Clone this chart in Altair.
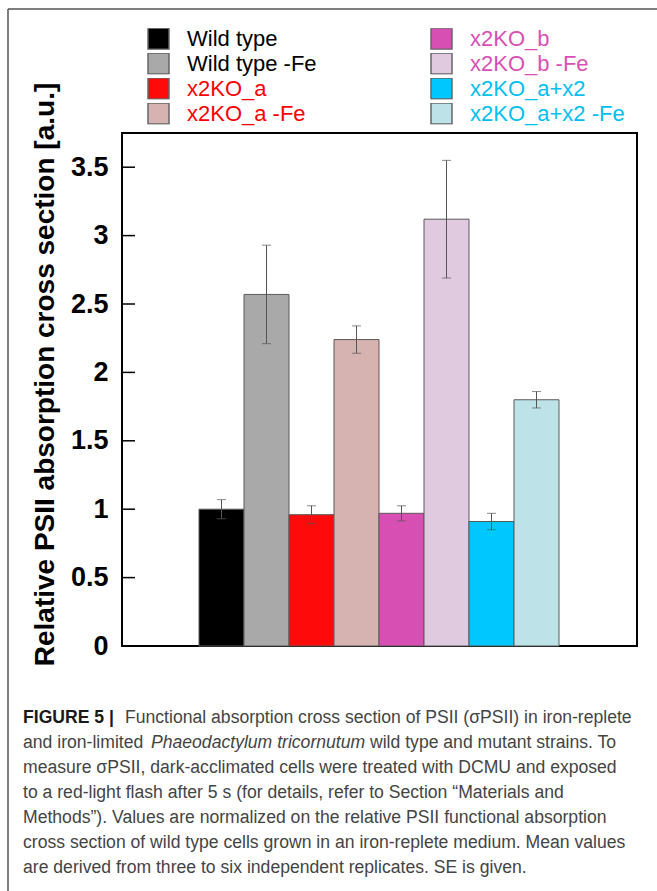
import altair as alt
import pandas as pd

# Strains / growth conditions, in plotting order
strains = [
    "Wild type", "Wild type -Fe",
    "x2KO_a", "x2KO_a -Fe",
    "x2KO_b", "x2KO_b -Fe",
    "x2KO_a+x2", "x2KO_a+x2 -Fe",
]
# Relative PSII absorption cross section (mean) and standard error
means = [1.00, 2.57, 0.96, 2.24, 0.97, 3.12, 0.91, 1.80]
errors = [0.07, 0.36, 0.065, 0.10, 0.055, 0.43, 0.06, 0.06]
fills = ["#000000", "#a9a9a9", "#ff0a0a", "#d6b3b1",
         "#d84fb3", "#dfcadf", "#00c8ff", "#bde3e8"]
y_ticks = [0, 0.5, 1, 1.5, 2, 2.5, 3, 3.5]

caption_lines = [
    "Functional absorption cross section of PSII (σPSII) in iron-replete",
    "wild type and mutant strains. To",
    "measure σPSII, dark-acclimated cells were treated with DCMU and exposed",
    "to a red-light flash after 5 s (for details, refer to Section “Materials and",
    "Methods”). Values are normalized on the relative PSII functional absorption",
    "cross section of wild type cells grown in an iron-replete medium. Mean values",
    "are derived from three to six independent replicates. SE is given.",
]

df = pd.DataFrame({"strain": strains, "mean": means, "se": errors})
df["lo"] = df["mean"] - df["se"]
df["hi"] = df["mean"] + df["se"]

FONT = "Liberation Sans"
GREY = "#555555"
CAP_SIZE = 17.6

# bars occupy the middle of the plot, with equal empty margins either side
x_enc = alt.X("strain:N", sort=strains,
              scale=alt.Scale(range=[77, 437], paddingInner=0, paddingOuter=0),
              axis=None)
y_scale = alt.Scale(domain=[0, 3.75], nice=False, zero=True)

label_color = (
    "indexof(datum.label, 'a+x2') >= 0 ? '#00c0f2' : "
    "indexof(datum.label, '_b') >= 0 ? '#d94fb5' : "
    "indexof(datum.label, '_a') >= 0 ? '#ff0000' : '#000000'"
)

bars = alt.Chart(df).mark_bar(stroke="#5a5a5a", strokeWidth=1, opacity=1).encode(
    x=x_enc,
    y=alt.Y("mean:Q", scale=y_scale,
            axis=alt.Axis(values=y_ticks, format="~g", ticks=False, domain=False,
                          grid=False, labelFont=FONT, labelFontSize=27,
                          labelFontWeight="bold", labelColor="black",
                          labelPadding=14, labelFlush=False, labelOverlap=False,
                          title="Relative PSII absorption cross section [a.u.]",
                          titleFont=FONT, titleFontSize=28, titleFontWeight="bold",
                          titleColor="black", titleX=-77, titleY=241,
                          titleBaseline="middle", titleAlign="center", titleAngle=-90)),
    color=alt.Color("strain:N",
                    scale=alt.Scale(domain=strains, range=fills),
                    legend=alt.Legend(orient="none", legendX=25, legendY=-105,
                                      columns=2, columnPadding=113, rowPadding=2,
                                      clipHeight=21,
                                      symbolType="square", symbolSize=441,
                                      symbolStrokeColor="#666666", symbolStrokeWidth=1.5,
                                      symbolOpacity=1, labelFont=FONT, labelFontSize=22,
                                      labelOffset=17, labelLimit=400, padding=0,
                                      labelColor={"expr": label_color}, title=None)),
)

err_line = alt.Chart(df).mark_rule(color=GREY, strokeWidth=1).encode(
    x=x_enc, y=alt.Y("lo:Q", scale=y_scale), y2="hi:Q"
)
cap_lo = alt.Chart(df).mark_tick(color=GREY, thickness=1, size=9).encode(
    x=x_enc, y=alt.Y("lo:Q", scale=y_scale)
)
cap_hi = alt.Chart(df).mark_tick(color=GREY, thickness=1, size=9).encode(
    x=x_enc, y=alt.Y("hi:Q", scale=y_scale)
)

# inward-pointing ticks on the value axis
tick_df = pd.DataFrame({"t": y_ticks})
inner_ticks = alt.Chart(tick_df).mark_rule(color="black", strokeWidth=1.5).encode(
    y=alt.Y("t:Q", scale=y_scale), x=alt.value(0), x2=alt.value(13)
)

one = alt.Data(values=[{}])

# figure frame (left and top edges)
frame_left = alt.Chart(one).mark_rule(color=GREY, strokeWidth=1.5).encode(
    x=alt.value(-114), y=alt.value(-124), y2=alt.value(900)
)
frame_top = alt.Chart(one).mark_rule(color=GREY, strokeWidth=1.5).encode(
    x=alt.value(-114), x2=alt.value(700), y=alt.value(-124)
)


def caption(text, x, y, weight="normal", style="normal", color="#444444"):
    return alt.Chart(one).mark_text(
        align="left", baseline="middle", font=FONT, fontSize=CAP_SIZE,
        fontWeight=weight, fontStyle=style, color=color, text=text,
    ).encode(x=alt.value(x), y=alt.value(y))


cap_layers = [
    caption("FIGURE 5 |", -99, 585, weight="bold", color="#1a1a1a"),
    caption(caption_lines[0], 3, 585),
    caption("and iron-limited", -99, 610),
    caption("Phaeodactylum tricornutum", 29, 610, style="italic"),
    caption(caption_lines[1], 248, 610),
]
for i, line in enumerate(caption_lines[2:]):
    cap_layers.append(caption(line, -99, 635 + 25 * i))

chart = alt.layer(
    bars, err_line, cap_lo, cap_hi, inner_ticks, frame_left, frame_top, *cap_layers
).properties(
    width=515, height=513, autosize="none",
    padding={"left": 122, "top": 133, "right": 20, "bottom": 245},
).configure_view(stroke="black", strokeWidth=2)

chart.save("out.html", embed_options={"renderer": "svg", "actions": False})
